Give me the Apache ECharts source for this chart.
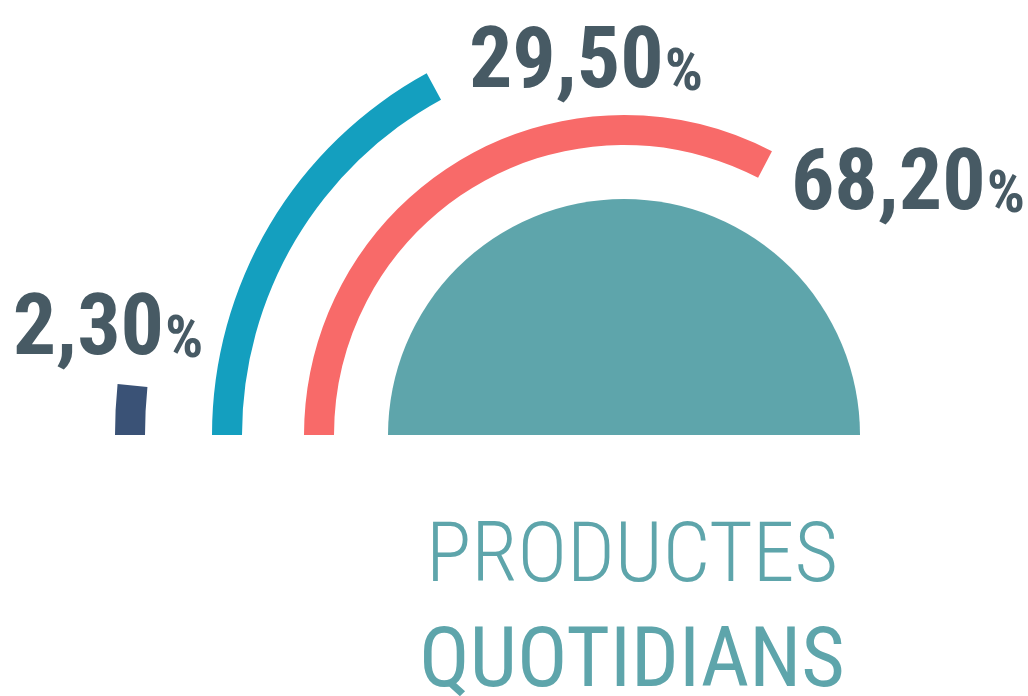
<!DOCTYPE html>
<html>
<head>
<meta charset="utf-8">
<script src="https://cdn.jsdelivr.net/npm/echarts@6/dist/echarts.min.js"></script>
<style>
  html, body { margin: 0; padding: 0; background: #fff; }
  #main { width: 1028px; height: 696px; }
</style>
</head>
<body>
<div id="main"></div>
<script>
// label values shown on the picture
var labels = ["2,30", "29,50", "68,20"];
// arc extent as drawn, share of the half circle
var arcShare = [3.2, 34.1, 65.3];
var ringColors = ["#3a5276", "#149fbf", "#f86a69"];
var ringRadius = [509, 412, 320];
// label offsets from the centre
var labelOffset = [[-516, -105], [-38, -372], [284, -250]];
// inner filled half disc
var coreValue = [100];

var chart = echarts.init(document.getElementById("main"));

var series = arcShare.map(function (v, i) {
  return {
    type: "gauge",
    center: [624, 435],
    radius: ringRadius[i],
    startAngle: 180,
    endAngle: 0,
    min: 0,
    max: 100,
    animation: false,
    progress: { show: true, width: 30, roundCap: false, itemStyle: { color: ringColors[i] } },
    axisLine: { show: false },
    axisTick: { show: false },
    splitLine: { show: false },
    axisLabel: { show: false },
    pointer: { show: false },
    anchor: { show: false },
    title: { show: false },
    detail: {
      show: true,
      offsetCenter: labelOffset[i],
      formatter: function () {
        return "{n|" + labels[i] + "}{p|%}";
      },
      rich: {
        n: { fontFamily: "Roboto Condensed", fontWeight: "bold", fontSize: 86, color: "#475a64", lineHeight: 90, verticalAlign: "bottom" },
        p: { fontFamily: "Roboto Condensed", fontWeight: "bold", fontSize: 60, color: "#475a64", lineHeight: 90, verticalAlign: "bottom", padding: [0, 0, 3, 1] }
      }
    },
    data: [{ value: v }]
  };
});

series.push({
  type: "gauge",
  center: [624, 435],
  radius: 236,
  startAngle: 180,
  endAngle: 0,
  min: 0,
  max: 100,
  animation: false,
  progress: { show: true, width: 236, roundCap: false, itemStyle: { color: "#5ea5ab" } },
  axisLine: { show: false },
  axisTick: { show: false },
  splitLine: { show: false },
  axisLabel: { show: false },
  pointer: { show: false },
  anchor: { show: false },
  title: { show: false },
  detail: { show: false },
  data: [{ value: coreValue[0] }]
});

chart.setOption({
  backgroundColor: "#ffffff",
  title: [
    {
      text: "PRODUCTES",
      left: 627,
      top: 513,
      textAlign: "center",
      textStyle: { fontFamily: "Roboto Condensed", fontWeight: 300, fontSize: 84, color: "#5ea5ab" }
    },
    {
      text: "QUOTIDIANS",
      left: 627,
      top: 618,
      textAlign: "center",
      textStyle: { fontFamily: "Roboto Condensed", fontWeight: "normal", fontSize: 84, color: "#5ea5ab" }
    }
  ],
  series: series
});
</script>
</body>
</html>
